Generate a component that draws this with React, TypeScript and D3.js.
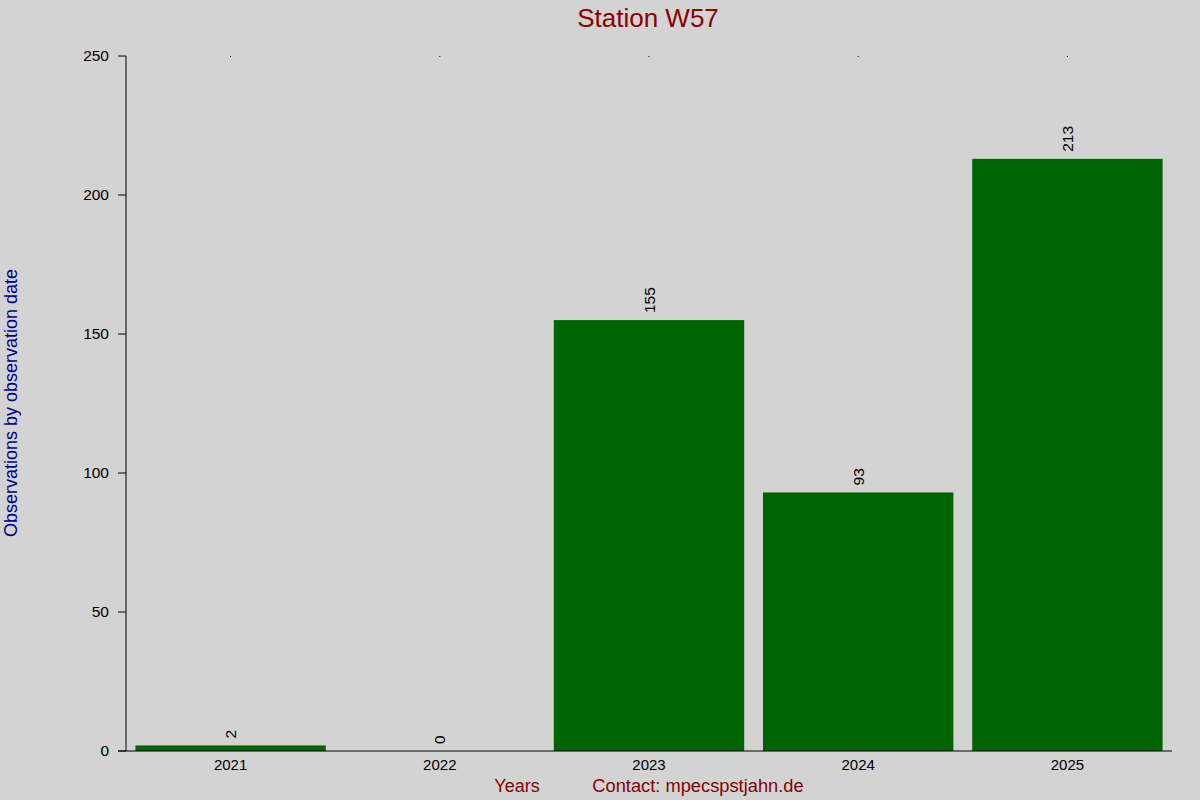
import React from "react";
import * as d3 from "d3";

const categories = ["2021", "2022", "2023", "2024", "2025"];
const values = [2, 0, 155, 93, 213];
const yTicks = [0, 50, 100, 150, 200, 250];

const W = 1200;
const H = 800;
const left = 126;
const right = 1172;
const top = 56;
const bottom = 751;
const font = "'Liberation Sans', Arial, sans-serif";

export default function App() {
  const x = d3.scaleBand<string>().domain(categories).range([left, right]).paddingInner(0.09).paddingOuter(0.045);
  const xc = d3.scaleBand<string>().domain(categories).range([left, right]);
  const y = d3.scaleLinear().domain([0, 250]).range([bottom, top]);

  return (
    <svg width={W} height={H} style={{ position: "absolute", left: 0, top: 0 }}>
      <rect x={0} y={0} width={W} height={H} fill="#d3d3d3" />
      <text x={648} y={27} textAnchor="middle" fontFamily={font} fontSize={26} fill="#8b0000">
        Station W57
      </text>
      <text
        transform={`translate(17,${403}) rotate(-90)`}
        textAnchor="middle"
        fontFamily={font}
        fontSize={18}
        fill="#00008b"
      >
        Observations by observation date
      </text>
      {categories.map((c, i) => {
        const v = values[i];
        const cx = (xc(c) as number) + xc.bandwidth() / 2;
        return (
          <g key={c}>
            {v > 0 && (
              <rect x={x(c)} y={y(v)} width={x.bandwidth()} height={bottom - y(v)} fill="#006400" />
            )}
            <text
              transform={`translate(${cx + 5.5},${y(v) - 7}) rotate(-90)`}
              textAnchor="start"
              fontFamily={font}
              fontSize={15.5}
              fill="#000"
            >
              {v}
            </text>
            <text x={cx} y={bottom + 19} textAnchor="middle" fontFamily={font} fontSize={15} fill="#000">
              {c}
            </text>
            <line x1={cx} x2={cx} y1={top} y2={top + 1} stroke="#000" strokeWidth={1} />
          </g>
        );
      })}
      <line x1={left} x2={left} y1={top} y2={bottom} stroke="#000" strokeWidth={1} />
      <line x1={118} x2={right} y1={bottom} y2={bottom} stroke="#000" strokeWidth={1} />
      {yTicks.map((t) => (
        <g key={t}>
          <line x1={118} x2={left} y1={y(t)} y2={y(t)} stroke="#000" strokeWidth={1} />
          <text x={109} y={y(t) + 5} textAnchor="end" fontFamily={font} fontSize={15.5} fill="#000">
            {t}
          </text>
        </g>
      ))}
      <text x={517} y={792} textAnchor="middle" fontFamily={font} fontSize={18} fill="#8b0000">
        Years
      </text>
      <text x={698} y={792} textAnchor="middle" fontFamily={font} fontSize={18.3} fill="#8b0000">
        Contact: mpecspstjahn.de
      </text>
    </svg>
  );
}
